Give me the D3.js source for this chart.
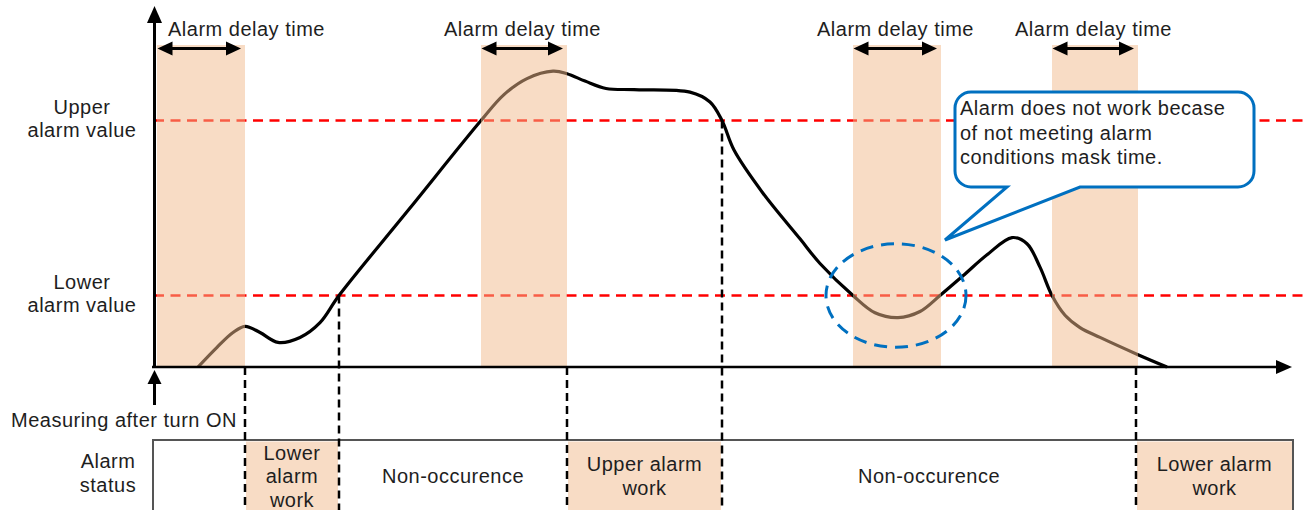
<!DOCTYPE html>
<html>
<head>
<meta charset="utf-8">
<script src="https://cdn.jsdelivr.net/npm/d3@7"></script>
<style>
  body { margin: 0; background: #fff; }
  svg { display: block; font-family: "Liberation Sans", Arial, sans-serif; }
</style>
</head>
<body>
<div id="chart"></div>
<script>
// measured value over time (time in arbitrary units from power ON)
const time  = [44, 63, 79, 91, 106, 124, 146, 166, 185, 256, 327, 350, 373, 399, 413, 431, 452, 480, 536, 556, 568, 580, 609, 646, 666, 699, 721, 744, 766, 786, 809, 833, 858, 873, 886, 898, 911, 926, 946, 984, 1013]
const level = [0, 8, 14, 16.5, 14, 10, 12, 18, 29, 64.5, 100, 110.5, 117, 120, 119, 116, 113, 112.5, 111.5, 107.5, 100, 88, 70.5, 52, 42, 29, 22, 20, 22.5, 29, 37, 45.5, 52.5, 50, 40.5, 29, 21, 16, 12, 5, 0]

const limitValues = [100, 29]
const limitLabels = [['Upper', 'alarm value'], ['Lower', 'alarm value']]

const delayStart = [3, 327, 699, 898]
const delayEnd = [91, 413, 787, 984]
const delayLabel = 'Alarm delay time'

// alarm state changes: dashed marker goes from this level down to the status row
const eventTimes = [91, 185, 413, 568, 982]
const eventLevels = [0, 29, 0, 100, 0]

const statusStart = [91, 185, 413, 568, 982]
const statusEnd = [185, 413, 568, 982, 1139]
const statusText = [['Lower', 'alarm', 'work'], ['Non-occurence'], ['Upper alarm', 'work'], ['Non-occurence'], ['Lower alarm', 'work']]
const statusActive = [true, false, true, false, true]

const maskCenter = [742, 29]
const maskRadius = [70, 21]
const calloutLines = ['Alarm does not work becase', 'of not meeting alarm', 'conditions mask time.']

const width = 1306, height = 510
const ink = '#1e1e1e'
const peach = '#f1b98b'

const svg = d3.select('#chart').append('svg')
  .attr('width', width).attr('height', height)

const x = d3.scaleLinear().domain([0, 1140]).range([154, 1294])
const y = d3.scaleLinear().domain([0, 100]).range([367, 120.5])
const bandTop = 45

const txt = (sel) => sel.attr('fill', ink).attr('font-size', 20).attr('letter-spacing', 0.5)

// limit lines
svg.selectAll('.limit').data(limitValues).enter().append('line')
  .attr('x1', x(0)).attr('x2', width)
  .attr('y1', d => y(d)).attr('y2', d => y(d))
  .attr('stroke', '#ff0000').attr('stroke-width', 2.3).attr('stroke-dasharray', '10,6.5')

// measured curve
const line = d3.line().x((d, i) => x(time[i])).y(d => y(d)).curve(d3.curveCatmullRom.alpha(0.5))
svg.append('path').attr('d', line(level))
  .attr('fill', 'none').attr('stroke', '#000').attr('stroke-width', 3.2)

// delay bands (translucent, over the curve)
svg.selectAll('.band').data(delayStart).enter().append('rect')
  .attr('x', d => x(d)).attr('y', bandTop)
  .attr('width', (d, i) => x(delayEnd[i]) - x(d)).attr('height', y(0) - bandTop)
  .attr('fill', peach).attr('opacity', 0.5)

// axes
svg.append('line').attr('x1', 154.5).attr('x2', 154.5).attr('y1', 20).attr('y2', y(0) + 1)
  .attr('stroke', '#000').attr('stroke-width', 3)
svg.append('path').attr('d', 'M154.5,6 L147,23 L162,23 Z').attr('fill', '#000')
svg.append('line').attr('x1', 152).attr('x2', 1280).attr('y1', y(0)).attr('y2', y(0))
  .attr('stroke', '#000').attr('stroke-width', 2.5)
svg.append('path').attr('d', `M1292,${y(0)} L1276,${y(0) - 7} L1276,${y(0) + 7} Z`).attr('fill', '#000')

// power-on arrow
svg.append('line').attr('x1', 154.5).attr('x2', 154.5).attr('y1', 380).attr('y2', 405)
  .attr('stroke', '#000').attr('stroke-width', 3)
svg.append('path').attr('d', 'M154.5,370 L147.5,384 L161.5,384 Z').attr('fill', '#000')
svg.append('text').attr('x', 237).attr('y', 427).attr('text-anchor', 'end')
  .text('Measuring after turn ON').call(txt)

// delay arrows + labels
delayStart.forEach((s, i) => {
  const x0 = x(s) + 0.5, x1 = x(delayEnd[i]) - 4, ay = 48.5
  svg.append('line').attr('x1', x0 + 10).attr('x2', x1 - 10).attr('y1', ay).attr('y2', ay)
    .attr('stroke', '#000').attr('stroke-width', 3.2)
  svg.append('path').attr('d', `M${x0},${ay} L${x0 + 15},${ay - 7} L${x0 + 15},${ay + 7} Z`).attr('fill', '#000')
  svg.append('path').attr('d', `M${x1},${ay} L${x1 - 15},${ay - 7} L${x1 - 15},${ay + 7} Z`).attr('fill', '#000')
  const mid = (x(s) + x(delayEnd[i])) / 2
  svg.append('text').attr('x', Math.max(mid - 80, 168)).attr('y', 36)
    .text(delayLabel).call(txt)
})

// limit labels
limitValues.forEach((v, i) => {
  const t = svg.append('text').attr('x', 82).attr('y', y(v) - 7).attr('text-anchor', 'middle').call(txt)
  limitLabels[i].forEach((s, j) => {
    t.append('tspan').attr('x', 82).attr('dy', j ? 23 : 0).text(s)
  })
})

// masked area ellipse
svg.append('ellipse')
  .attr('cx', x(maskCenter[0])).attr('cy', y(maskCenter[1]))
  .attr('rx', x(maskCenter[0] + maskRadius[0]) - x(maskCenter[0]))
  .attr('ry', y(maskCenter[1]) - y(maskCenter[1] + maskRadius[1]))
  .attr('fill', 'none').attr('stroke', '#0070c0').attr('stroke-width', 3)
  .attr('stroke-dasharray', '13,8')

// callout
const L = 955, T = 92, R = 1254, B = 187, r = 16
svg.append('path')
  .attr('d', `M${L + r},${T} H${R - r} A${r},${r} 0 0 1 ${R},${T + r} V${B - r} A${r},${r} 0 0 1 ${R - r},${B}
    H1080 L945,240 L1007,${B} H${L + r} A${r},${r} 0 0 1 ${L},${B - r} V${T + r} A${r},${r} 0 0 1 ${L + r},${T} Z`)
  .attr('fill', '#fff').attr('stroke', '#0070c0').attr('stroke-width', 3)
calloutLines.forEach((s, i) => {
  svg.append('text').attr('x', 960).attr('y', 115 + i * 24.5).text(s).call(txt)
})

// status row
const rowTop = 440
statusStart.forEach((s, i) => {
  if (statusActive[i]) {
    svg.append('rect').attr('x', x(s) + 1).attr('y', rowTop + 1.5)
      .attr('width', x(statusEnd[i]) - x(s) - 2).attr('height', height - rowTop)
      .attr('fill', '#f8dcc5')
  }
  const lines = statusText[i]
  const cx = (x(s) + x(statusEnd[i])) / 2
  const t = svg.append('text').attr('text-anchor', 'middle').attr('x', cx)
    .attr('y', 483 - (lines.length - 1) * 11.75).call(txt)
  lines.forEach((ln, j) => t.append('tspan').attr('x', cx).attr('dy', j ? 23.5 : 0).text(ln))
})
svg.append('path').attr('d', `M153,${height} V${rowTop} H${x(1139)} V${height}`)
  .attr('fill', 'none').attr('stroke', '#555').attr('stroke-width', 2)
const st = svg.append('text').attr('x', 108).attr('y', 468).attr('text-anchor', 'middle').call(txt)
st.append('tspan').attr('x', 108).text('Alarm')
st.append('tspan').attr('x', 108).attr('dy', 24).text('status')

// event markers
svg.selectAll('.event').data(eventTimes).enter().append('line')
  .attr('x1', d => x(d)).attr('x2', d => x(d))
  .attr('y1', (d, i) => y(eventLevels[i])).attr('y2', height)
  .attr('stroke', '#000').attr('stroke-width', 2.5).attr('stroke-dasharray', '8,5')
</script>
</body>
</html>
